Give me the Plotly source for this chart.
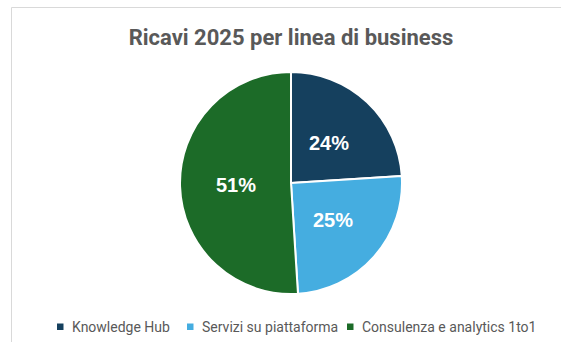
import math
import plotly.graph_objects as go

# Revenue share by business line, 2025
categories = ["Knowledge Hub", "Servizi su piattaforma", "Consulenza e analytics 1to1"]
shares = [24, 25, 51]
colors = ["#15405e", "#45ade0", "#1c6b28"]

W, H = 561, 342
CX, CY, R = 291, 183, 111  # pie centre and radius in pixels

fig = go.Figure(
    go.Pie(
        labels=categories,
        values=shares,
        sort=False,
        direction="clockwise",
        rotation=0,
        marker=dict(colors=colors, line=dict(color="white", width=2)),
        textinfo="none",
        hoverinfo="label+percent",
        showlegend=False,
        domain=dict(x=[(CX - R) / W, (CX + R) / W], y=[1 - (CY + R) / H, 1 - (CY - R) / H]),
    )
)

# Percentage labels placed halfway along each slice's bisector
annotations = []
total = sum(shares)
start = 0.0
for v in shares:
    mid = (start + v / 2) / total * 2 * math.pi
    start += v
    px = CX + 0.5 * R * math.sin(mid)
    py = CY - 0.5 * R * math.cos(mid)
    annotations.append(dict(
        text=f"<b>{round(v / total * 100)}%</b>",
        x=px / W, y=1 - py / H, xref="paper", yref="paper",
        xanchor="center", yanchor="middle", showarrow=False,
        font=dict(family="Liberation Sans", size=20, color="white"),
    ))

# Legend row: small coloured square followed by the category name
shapes = [
    dict(
        type="rect", xref="paper", yref="paper",
        x0=11.5 / W, x1=1.05, y0=-0.05, y1=1 - 7.5 / H,
        line=dict(color="#d9d9d9", width=1), fillcolor="rgba(0,0,0,0)", layer="below",
    )
]
legend_x = [57, 187, 347]
legend_y = 326.5
for name, col, lx in zip(categories, colors, legend_x):
    shapes.append(dict(
        type="rect", xref="paper", yref="paper",
        x0=lx / W, x1=(lx + 6.5) / W,
        y0=1 - (legend_y + 3.5) / H, y1=1 - (legend_y - 3) / H,
        line=dict(width=0), fillcolor=col,
    ))
    annotations.append(dict(
        text=name, x=(lx + 12.5) / W, y=1 - legend_y / H,
        xref="paper", yref="paper", xanchor="left", yanchor="middle", showarrow=False,
        font=dict(family="Roboto", size=14, color="#595959"),
    ))

fig.update_layout(
    width=W,
    height=H,
    margin=dict(l=0, r=0, t=0, b=0),
    paper_bgcolor="white",
    plot_bgcolor="white",
    title=dict(
        text="<b>Ricavi 2025 per linea di business</b>",
        x=291 / W,
        xanchor="center",
        y=1 - 37 / H,
        yanchor="middle",
        font=dict(family="Roboto", size=22, color="#595959"),
    ),
    annotations=annotations,
    shapes=shapes,
)

fig.write_html("out.html")
